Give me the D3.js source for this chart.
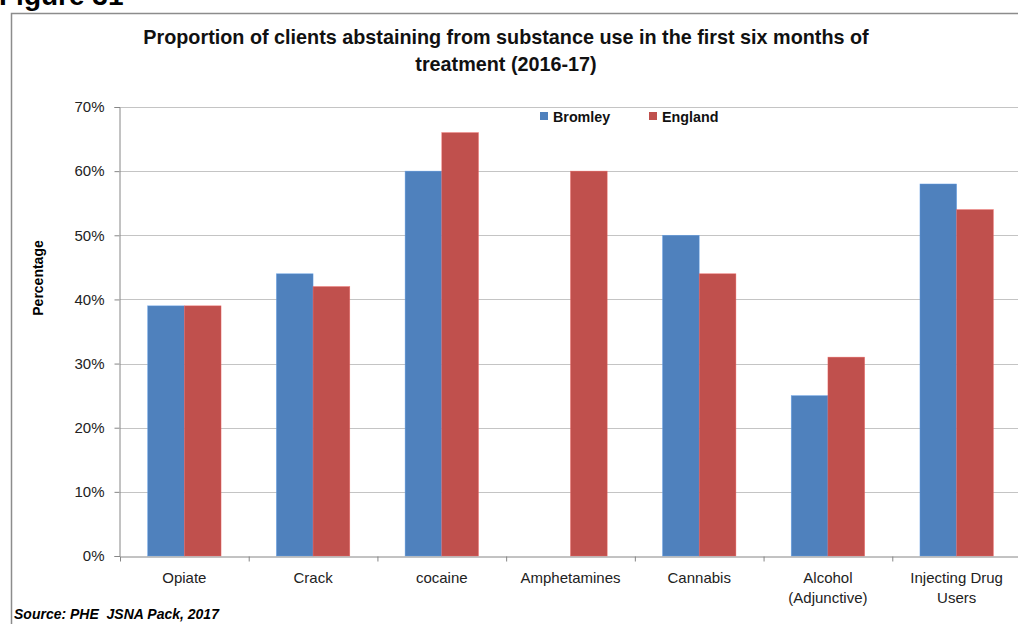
<!DOCTYPE html>
<html><head><meta charset="utf-8">
<script src="https://cdn.jsdelivr.net/npm/d3@7"></script>
<style>body{margin:0;background:#fff}svg{display:block}</style>
</head><body>
<script>
const categories = [["Opiate"],["Crack"],["cocaine"],["Amphetamines"],["Cannabis"],["Alcohol","(Adjunctive)"],["Injecting Drug","Users"]];
const seriesNames = ["Bromley","England"];
const bromley = [0.39,0.44,0.60,null,0.50,0.25,0.58];
const england = [0.39,0.42,0.66,0.60,0.44,0.31,0.54];
const yTicks = [0,0.1,0.2,0.3,0.4,0.5,0.6,0.7];
const colors = ["#4F81BD","#C0504D"];

(function(){
const W=1018,H=624;
const svg=d3.select("body").append("svg").attr("width",W).attr("height",H);
const font="'Liberation Sans', Arial, sans-serif";

svg.append("text").attr("x",-1).attr("y",5).attr("font-family",font).attr("font-weight","bold")
  .attr("font-size",28).attr("fill","#000").text("Figure 31");

svg.append("rect").attr("x",11.5).attr("y",13.5).attr("width",1020).attr("height",640)
  .attr("fill","none").attr("stroke","#8c8c8c").attr("stroke-width",1.5);

const pLeft=120,pRight=1021,pTop=107,pBottom=556;
const keys = categories.map((d,i)=>i);
const x0=d3.scaleBand().domain(keys).range([pLeft,pRight]).padding(0);
const bw=x0.bandwidth();
const x1=d3.scaleBand().domain(seriesNames).range([bw*0.215,bw*0.785]).padding(0);
const y=d3.scaleLinear().domain([0,0.7]).range([pBottom,pTop]);

svg.append("g").selectAll("line").data(yTicks.slice(1)).join("line")
  .attr("x1",pLeft).attr("x2",W).attr("y1",d=>Math.round(y(d))+0.5).attr("y2",d=>Math.round(y(d))+0.5)
  .attr("stroke","#c4c4c4").attr("stroke-width",1.2);

const data=[bromley,england];
const g=svg.append("g");
keys.forEach(i=>{
  seriesNames.forEach((s,j)=>{
    const v=data[j][i];
    if(v==null) return;
    g.append("rect").attr("x",x0(i)+x1(s)).attr("width",x1.bandwidth())
      .attr("y",y(v)).attr("height",y(0)-y(v)).attr("fill",colors[j])
      .attr("stroke",d3.color(colors[j]).brighter(0.6)).attr("stroke-width",0.6).attr("stroke-opacity",0.7);
  });
});

const yAxis=d3.axisLeft(y).tickValues(yTicks).tickFormat(d3.format(".0%")).tickSize(5).tickPadding(10);
const ya=svg.append("g").attr("transform",`translate(${pLeft-0.5},0)`).call(yAxis);
ya.select(".domain").attr("stroke","#868686");
ya.selectAll(".tick line").attr("stroke","#868686");
ya.selectAll("text").attr("font-family",font).attr("font-size",15).attr("fill","#222");

const xAxis=d3.axisBottom(x0).tickSize(0).tickFormat(()=>"");
const xa=svg.append("g").attr("transform",`translate(0,${pBottom+0.5})`).call(xAxis);
xa.select(".domain").attr("stroke","#868686");
xa.append("g").selectAll("line").data(d3.range(categories.length+1)).join("line")
  .attr("x1",i=>pLeft+i*bw+0.5).attr("x2",i=>pLeft+i*bw+0.5).attr("y1",0).attr("y2",5).attr("stroke","#868686");
keys.forEach(i=>{
  const t=svg.append("text").attr("text-anchor","middle").attr("font-family",font).attr("font-size",15)
    .attr("fill","#222");
  categories[i].forEach((line,k)=>{
    t.append("tspan").attr("x",x0(i)+bw/2).attr("y",583+k*20).text(line);
  });
});

const title=["Proportion of clients abstaining from substance use in the first six months of","treatment (2016-17)"];
title.forEach((t,k)=>{
  svg.append("text").attr("x",506).attr("y",44+k*27).attr("text-anchor","middle")
    .attr("font-family",font).attr("font-weight","bold").attr("font-size",19.8).attr("fill","#111").text(t);
});

svg.append("text").attr("transform","translate(43,278) rotate(-90)").attr("text-anchor","middle")
  .attr("font-family",font).attr("font-weight","bold").attr("font-size",14).attr("fill","#000").text("Percentage");

const legX=[540,649];
seriesNames.forEach((s,j)=>{
  svg.append("rect").attr("x",legX[j]).attr("y",112).attr("width",8).attr("height",8).attr("fill",colors[j]);
  svg.append("text").attr("x",legX[j]+13).attr("y",121.5).attr("font-family",font).attr("font-weight","bold")
    .attr("font-size",14.3).attr("fill","#111").text(s);
});

svg.append("text").attr("x",14).attr("y",619).attr("font-family",font).attr("font-weight","bold")
  .attr("font-style","italic").attr("font-size",14).attr("fill","#000").style("white-space","pre")
  .text("Source: PHE  JSNA Pack, 2017");
})();
</script>
</body></html>
